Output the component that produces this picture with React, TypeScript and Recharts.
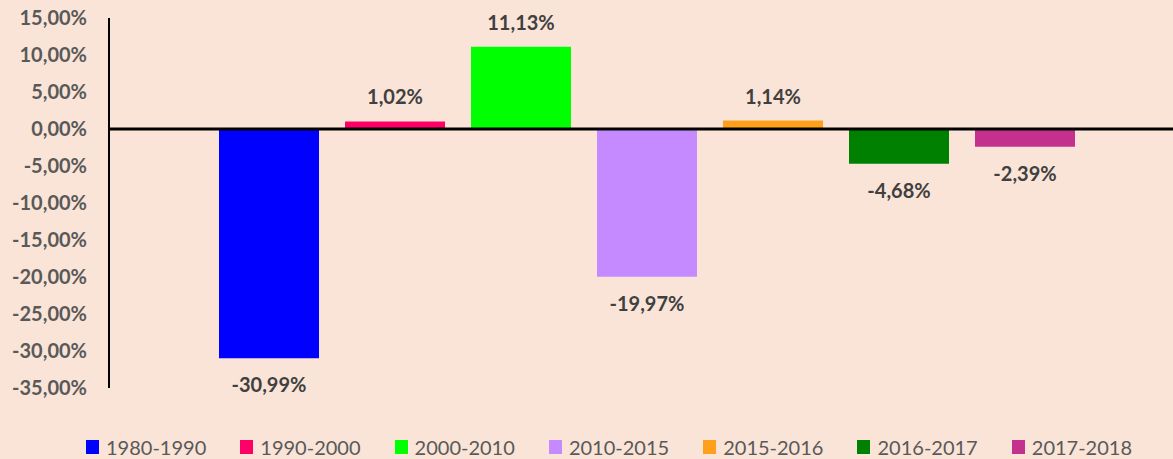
import React from 'react';
import { BarChart, Bar, XAxis, YAxis, ReferenceLine, Legend, LabelList } from 'recharts';

const periods = ['1980-1990', '1990-2000', '2000-2010', '2010-2015', '2015-2016', '2016-2017', '2017-2018'];
const values = [-30.99, 1.02, 11.13, -19.97, 1.14, -4.68, -2.39];
const colors = ['#0000FF', '#FF0066', '#00FF00', '#C58AFF', '#FFA01C', '#008000', '#C4308E'];
const yTicks = [-35, -30, -25, -20, -15, -10, -5, 0, 5, 10, 15];

const row: Record<string, number | string> = { name: '' };
periods.forEach((p, i) => { row[p] = values[i]; });
const data = [row];

const FONT = 'Lato, "Liberation Sans", sans-serif';
const fmt = (v: number) => v.toFixed(2).replace('.', ',') + '%';

const renderLabel = (props: any) => {
  const { x, y, width, height, value } = props;
  const v = Number(value);
  const top = Math.min(y, y + height);
  const bottom = Math.max(y, y + height);
  const cy = v >= 0 ? top - 25 : bottom + 26;
  return (
    <text x={x + width / 2} y={cy} textAnchor="middle" dominantBaseline="central"
      fill="#404040" fontFamily={FONT} fontWeight={700} fontSize={20}>
      {fmt(v)}
    </text>
  );
};

const renderLegend = () => (
  <div style={{ display: 'flex', height: 20, alignItems: 'center', fontFamily: FONT }}>
    {periods.map((p, i) => (
      <div key={p} style={{ width: 154.3, display: 'flex', alignItems: 'center', flexShrink: 0 }}>
        <span style={{ display: 'inline-block', width: 13, height: 14, background: colors[i], marginRight: 7 }} />
        <span style={{ fontSize: 20, color: '#595959', lineHeight: '20px' }}>{p}</span>
      </div>
    ))}
  </div>
);

export default function App() {
  return (
    <div style={{ position: 'absolute', left: 0, top: 0, width: 1173, height: 459, overflow: 'hidden', background: '#FAE4D7' }}>
      <BarChart width={1184} height={459} data={data} barGap={26} barSize={100}
        margin={{ top: 18, right: 0, left: 0, bottom: 51 }}>
        <XAxis dataKey="name" hide />
        <YAxis width={109} domain={[-35, 15]} ticks={yTicks} tickFormatter={fmt}
          tickLine={false} tickSize={0} tickMargin={22} interval={0}
          axisLine={{ stroke: '#000', strokeWidth: 2 }}
          tick={{ fill: '#595959', fontFamily: FONT, fontWeight: 700, fontSize: 20 }} />
        {periods.map((p, i) => (
          <Bar key={p} dataKey={p} fill={colors[i]} isAnimationActive={false}>
            <LabelList dataKey={p} content={renderLabel} />
          </Bar>
        ))}
        <ReferenceLine y={0} stroke="#000" strokeWidth={3} />
        <Legend verticalAlign="bottom" content={renderLegend}
          wrapperStyle={{ left: 86, bottom: 2, width: 1100 }} />
      </BarChart>
    </div>
  );
}
